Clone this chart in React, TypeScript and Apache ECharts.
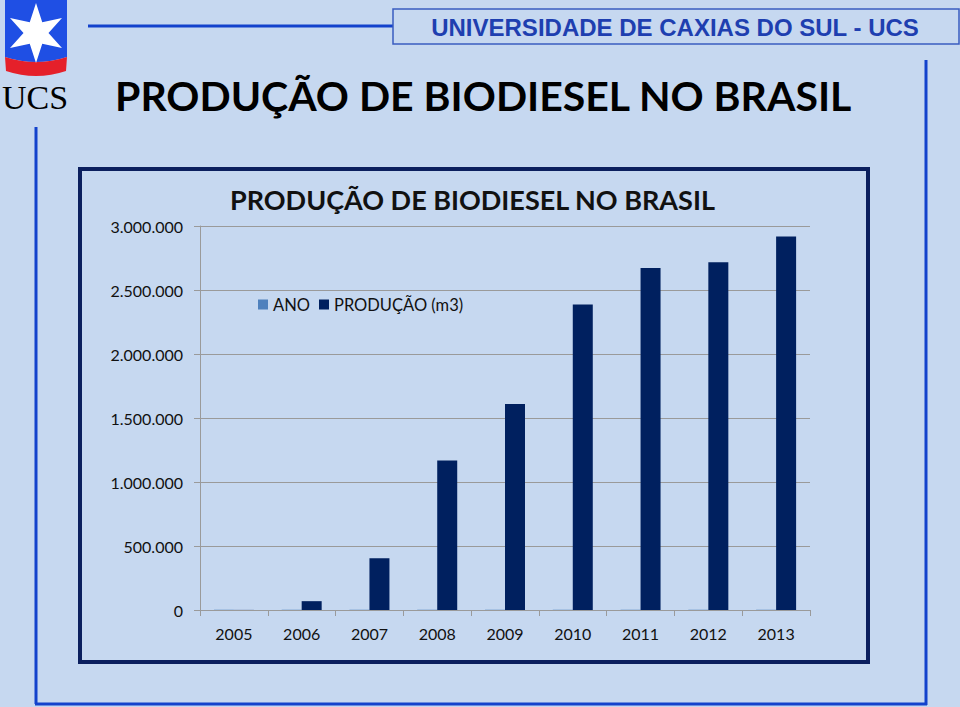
import React, { useEffect, useRef } from "react";
import * as echarts from "echarts";

const categories = ["2005", "2006", "2007", "2008", "2009", "2010", "2011", "2012", "2013"];
const anoValues = [2005, 2006, 2007, 2008, 2009, 2010, 2011, 2012, 2013];
const producaoValues = [736, 69002, 404329, 1167128, 1608448, 2386399, 2672760, 2717483, 2917488];
const seriesNames = ["ANO", "PRODUÇÃO (m3)"];
const yMin = 0;
const yMax = 3000000;
const yInterval = 500000;

const mainTitle = "PRODUÇÃO DE BIODIESEL NO BRASIL";
const chartTitle = "PRODUÇÃO DE BIODIESEL NO BRASIL";
const headerText = "UNIVERSIDADE DE CAXIAS DO SUL - UCS";

const BG = "#c6d8f0";
const FRAME = "#1342cc";
const NAVY = "#0b1f5e";

function fmt(v: number) {
  return String(v).replace(/\B(?=(\d{3})+(?!\d))/g, ".");
}

function starPoints(cx: number, cy: number, R: number, r: number) {
  const pts: number[][] = [];
  for (let i = 0; i < 12; i++) {
    const ang = (-90 + i * 30) * Math.PI / 180;
    const rad = i % 2 === 0 ? R : r;
    pts.push([cx + rad * Math.cos(ang), cy + rad * Math.sin(ang)]);
  }
  return pts;
}

echarts.graphic.registerShape(
  "shieldBlue",
  echarts.graphic.extendPath("M5 0 L67 0 L67 57 Q36 67 5 57 Z", {})
);
echarts.graphic.registerShape(
  "shieldRed",
  echarts.graphic.extendPath("M5 57 Q36 67 67 57 L66 71 Q36 81 6 71 Z", {})
);

export default function App() {
  const ref = useRef<HTMLDivElement>(null);
  useEffect(() => {
    if (!ref.current) return;
    const chart = echarts.init(ref.current, null, { renderer: "svg" });
    chart.setOption({
      animation: false,
      backgroundColor: BG,
      textStyle: { fontFamily: "Lato" },
      title: {
        text: chartTitle,
        left: 225,
        top: 181,
        textStyle: { fontFamily: "Lato", fontWeight: "bold", fontSize: 27, color: "#111" },
      },
      legend: {
        data: seriesNames,
        left: 253,
        top: 291,
        icon: "rect",
        itemWidth: 10,
        itemHeight: 10,
        itemGap: 9,
        textStyle: { fontFamily: "Lato", fontSize: 16.5, color: "#111" },
      },
      grid: { left: 200, right: 150, top: 226, bottom: 97, containLabel: false },
      xAxis: {
        type: "category",
        data: categories,
        axisLine: { show: true, lineStyle: { color: "#9a9a9a", width: 1 } },
        axisTick: { show: true, length: 6, lineStyle: { color: "#9a9a9a" } },
        axisLabel: { fontFamily: "Lato", fontSize: 16, color: "#111", margin: 15 },
      },
      yAxis: {
        type: "value",
        min: yMin,
        max: yMax,
        interval: yInterval,
        axisLine: { show: true, lineStyle: { color: "#9a9a9a", width: 1 } },
        axisTick: { show: true, length: 6, lineStyle: { color: "#9a9a9a" } },
        splitLine: { show: true, lineStyle: { color: "#9a9a9a", width: 1 } },
        axisLabel: { fontFamily: "Lato", fontSize: 16, color: "#111", margin: 17, formatter: (v: number) => fmt(v) },
      },
      series: [
        {
          name: seriesNames[0],
          type: "bar",
          data: anoValues,
          barWidth: 20,
          barGap: "0%",
          itemStyle: { color: "#4f81bd" },
        },
        {
          name: seriesNames[1],
          type: "bar",
          data: producaoValues,
          barWidth: 20,
          barGap: "0%",
          itemStyle: { color: "#00205f" },
        },
      ],
      graphic: [
        { type: "line", shape: { x1: 36, y1: 127, x2: 36, y2: 704 }, style: { stroke: FRAME, lineWidth: 3 } },
        { type: "line", shape: { x1: 35, y1: 704, x2: 927, y2: 704 }, style: { stroke: FRAME, lineWidth: 3 } },
        { type: "line", shape: { x1: 926, y1: 60, x2: 926, y2: 705 }, style: { stroke: FRAME, lineWidth: 3 } },
        { type: "line", shape: { x1: 88, y1: 26, x2: 393, y2: 26 }, style: { stroke: FRAME, lineWidth: 3 } },
        { type: "rect", shape: { x: 393, y: 9, width: 566, height: 35 }, style: { fill: "none", stroke: "#3a5cc0", lineWidth: 1.5 } },
        {
          type: "text",
          x: 675,
          y: 27,
          style: {
            text: headerText,
            fontFamily: "Liberation Sans",
            fontWeight: "bold",
            fontSize: 24,
            fill: "#1e3fb0",
            textAlign: "center",
            textVerticalAlign: "middle",
          },
        },
        {
          type: "text",
          x: 115,
          y: 95,
          style: {
            text: mainTitle,
            fontFamily: "Lato",
            fontWeight: "bold",
            fontSize: 41,
            fill: "#000",
            textAlign: "left",
            textVerticalAlign: "middle",
          },
        },
        { type: "rect", shape: { x: 80, y: 169, width: 788, height: 493 }, style: { fill: "none", stroke: NAVY, lineWidth: 4 } },
        { type: "shieldBlue", x: 0, y: 0, style: { fill: "#1f4fe4" } },
        { type: "shieldRed", x: 0, y: 0, style: { fill: "#e5202a" } },
        { type: "polygon", shape: { points: starPoints(36, 33, 30, 12.5) }, style: { fill: "#ffffff" } },
        {
          type: "text",
          x: 35,
          y: 97,
          style: {
            text: "UCS",
            fontFamily: "Liberation Serif",
            fontSize: 34,
            fill: "#000",
            textAlign: "center",
            textVerticalAlign: "middle",
          },
        },
      ],
    });
    return () => chart.dispose();
  }, []);
  return (
    <div
      ref={ref}
      style={{ position: "fixed", left: 0, top: 0, width: 960, height: 707 }}
    />
  );
}
